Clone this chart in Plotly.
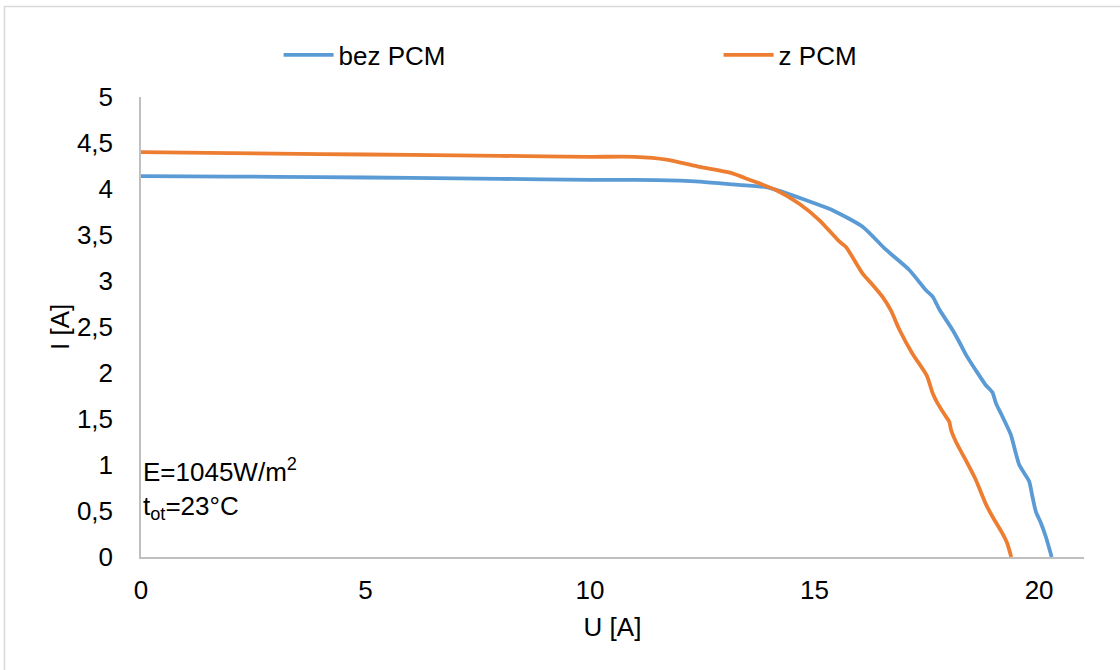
import plotly.graph_objects as go

# bez PCM
u_bez = [0, 2, 4, 6, 8, 10, 11, 12, 12.44, 13.17, 13.92, 14.14, 14.8, 15.4, 16.07, 16.59,
         17.11, 17.48, 17.63, 17.78, 18.07, 18.22, 18.37, 18.59, 18.81, 18.96, 19.04, 19.18,
         19.37, 19.48, 19.56, 19.67, 19.78, 19.85, 19.93, 20.04, 20.15, 20.28]
i_bez = [4.14, 4.135, 4.13, 4.12, 4.11, 4.10, 4.10, 4.09, 4.08, 4.05, 4.02, 3.99, 3.88, 3.77, 3.59, 3.34,
         3.12, 2.90, 2.83, 2.69, 2.47, 2.34, 2.20, 2.03, 1.87, 1.79, 1.67, 1.53,
         1.33, 1.13, 1.00, 0.91, 0.82, 0.66, 0.49, 0.37, 0.22, 0.0]

# z PCM
u_z = [0, 2, 4, 6, 8, 10, 11, 11.7, 12.44, 13.17, 13.55, 14.14, 14.66, 15.11, 15.55, 15.70,
       16.07, 16.29, 16.51, 16.70, 16.89, 17.18, 17.40, 17.51, 17.63, 17.74, 17.92, 18.00,
       18.04, 18.15, 18.37, 18.59, 18.81, 18.96, 19.18, 19.29, 19.38]
i_z = [4.40, 4.39, 4.38, 4.37, 4.36, 4.35, 4.35, 4.32, 4.24, 4.17, 4.10, 3.99, 3.84, 3.66, 3.43, 3.37,
       3.08, 2.96, 2.83, 2.68, 2.47, 2.21, 2.05, 1.96, 1.78, 1.67, 1.53, 1.47,
       1.38, 1.25, 1.05, 0.84, 0.58, 0.44, 0.26, 0.15, 0.0]

x_ticks = [0, 5, 10, 15, 20]
y_ticks = [0, 0.5, 1, 1.5, 2, 2.5, 3, 3.5, 4, 4.5, 5]
y_tick_text = ["0", "0,5", "1", "1,5", "2", "2,5", "3", "3,5", "4", "4,5", "5"]

FONT = "Liberation Sans, Arial, sans-serif"
FS = 26

fig = go.Figure()
fig.add_trace(go.Scatter(x=u_bez, y=i_bez, mode="lines", name="bez PCM",
                         line=dict(color="#5b9bd5", width=3.8, shape="spline", smoothing=0.6)))
fig.add_trace(go.Scatter(x=u_z, y=i_z, mode="lines", name="z PCM",
                         line=dict(color="#ed7d31", width=3.8, shape="spline", smoothing=0.6)))

fig.update_layout(
    width=1120, height=670,
    margin=dict(l=141, r=36, t=97, b=113, autoexpand=False),
    paper_bgcolor="white", plot_bgcolor="white",
    font=dict(family=FONT, size=FS, color="#000000"),
    showlegend=True,
    legend=dict(orientation="h", x=0.1459, xanchor="left", y=(557 - 55) / 460, yanchor="middle",
                font=dict(size=FS), entrywidth=375, entrywidthmode="pixels",
                bgcolor="rgba(0,0,0,0)", itemwidth=50, tracegroupgap=0),
    xaxis=dict(range=[0, 21], tickvals=x_ticks, showgrid=False, zeroline=False,
               showline=True, linecolor="#bfbfbf", linewidth=1.5, ticks="",
               ticklabelstandoff=9,
               title=dict(text="U [A]", font=dict(size=FS), standoff=14)),
    yaxis=dict(range=[0, 5], tickvals=y_ticks, ticktext=y_tick_text, showgrid=False,
               zeroline=False, showline=True, linecolor="#bfbfbf", linewidth=1.5,
               ticks="outside", ticklen=21, tickcolor="rgba(255,255,255,0)"),
    shapes=[dict(type="rect", xref="paper", yref="paper",
                 x0=(4.5 - 141) / 943, x1=1.1, y0=-0.5, y1=(557 - 6.5) / 460,
                 line=dict(color="#d9d9d9", width=1.5), fillcolor="rgba(0,0,0,0)", layer="below")],
    annotations=[
        dict(text="E=1045W/m<sup>2</sup><br>t<sub>ot</sub>=23°C", xref="paper", yref="paper",
             x=(141 - 141) / 943, y=(557 - 452) / 460, xanchor="left", yanchor="top",
             align="left", showarrow=False, font=dict(size=FS)),
        dict(text="I [A]", xref="paper", yref="paper", x=(60 - 141) / 943, y=0.5,
             xanchor="center", yanchor="middle", textangle=-90, showarrow=False,
             font=dict(size=FS)),
    ],
)

fig.write_html("out.html", config={"displayModeBar": False},
               post_script="document.body.style.margin='0';")
